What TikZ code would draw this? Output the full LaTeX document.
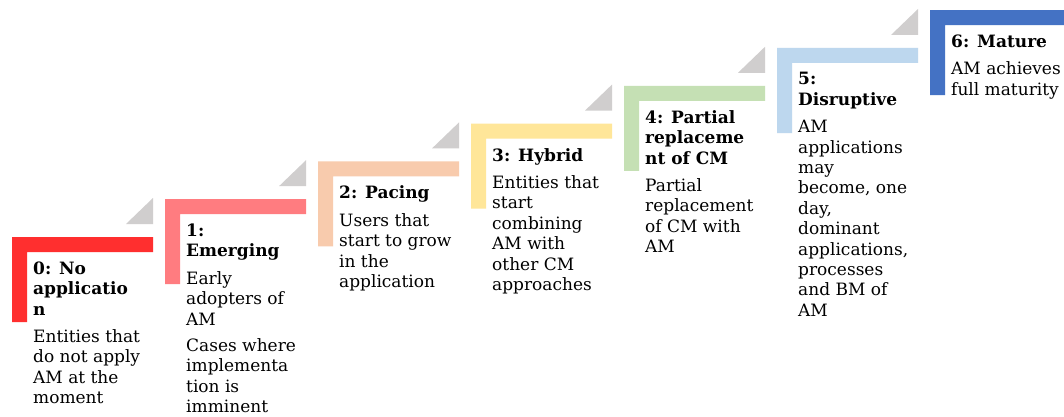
\documentclass[tikz,border=0pt]{standalone}
\usepackage{fontspec}
\newfontfamily\stageserif{DejaVu Serif}
\definecolor{stage0}{HTML}{FF2F2F}
\definecolor{stage1}{HTML}{FF7C80}
\definecolor{stage2}{HTML}{F8CBAD}
\definecolor{stage3}{HTML}{FFE699}
\definecolor{stage4}{HTML}{C5E0B4}
\definecolor{stage5}{HTML}{BDD7EE}
\definecolor{stage6}{HTML}{4472C4}
\definecolor{stepgrey}{HTML}{D0CECE}

% one stage: #1 name, #2 left, #3 top, #4 colour, #5 text
\newcommand\drawstage[5]{%
  \begin{scope}[shift={(#2,#3)}]
    \fill[#4] (0,0) -- (141,0) -- (141,15) -- (15,15) -- (15,85) -- (0,85) -- cycle;
    \node[stagetext] (#1) at (21,24.4) {#5};
  \end{scope}}
% grey wedge above the right end of a stage bar
\newcommand\drawwedge[2]{%
  \fill[stepgrey] (#1+114,#2-13) -- (#1+141,#2-13) -- (#1+141,#2-39) -- cycle;}

\begin{document}
\begin{tikzpicture}[x=1pt,y=-1pt,
  stagetext/.style={align=left, inner sep=0pt, anchor=north west,
    font=\stageserif\fontsize{17}{20.4}\selectfont, text=black}]
\clip (0,0) rectangle (1064,417);
\fill[white] (0,0) rectangle (1064,417);

\foreach \i in {0,...,5}{
  \pgfmathsetmacro\lx{12+153*\i}
  \pgfmathsetmacro\ty{237-37.8*\i}
  \drawwedge{\lx}{\ty}
}

\drawstage{s0}{12}{237}{stage0}{\textbf{0: No}\\\textbf{applicatio}\\\textbf{n}\\[7pt]Entities that\\do not apply\\AM at the\\moment}
\drawstage{s1}{165}{199.2}{stage1}{\textbf{1:}\\\textbf{Emerging}\\[7pt]Early\\adopters of\\AM\\[6pt]Cases where\\implementa\\tion is\\imminent}
\drawstage{s2}{318}{161.4}{stage2}{\textbf{2: Pacing}\\[7pt]Users that\\start to grow\\in the\\application}
\drawstage{s3}{471}{123.6}{stage3}{\textbf{3: Hybrid}\\[7pt]Entities that\\start\\combining\\AM with\\other CM\\approaches}
\drawstage{s4}{624}{85.8}{stage4}{\textbf{4: Partial}\\\textbf{replaceme}\\\textbf{nt of CM}\\[7pt]Partial\\replacement\\of CM with\\AM}
\drawstage{s5}{777}{48}{stage5}{\textbf{5:}\\\textbf{Disruptive}\\[7pt]AM\\applications\\may\\become, one\\day,\\dominant\\applications,\\processes\\and BM of\\AM}
\drawstage{s6}{930}{10.2}{stage6}{\textbf{6: Mature}\\[7pt]AM achieves\\full maturity}
\end{tikzpicture}
\end{document}
